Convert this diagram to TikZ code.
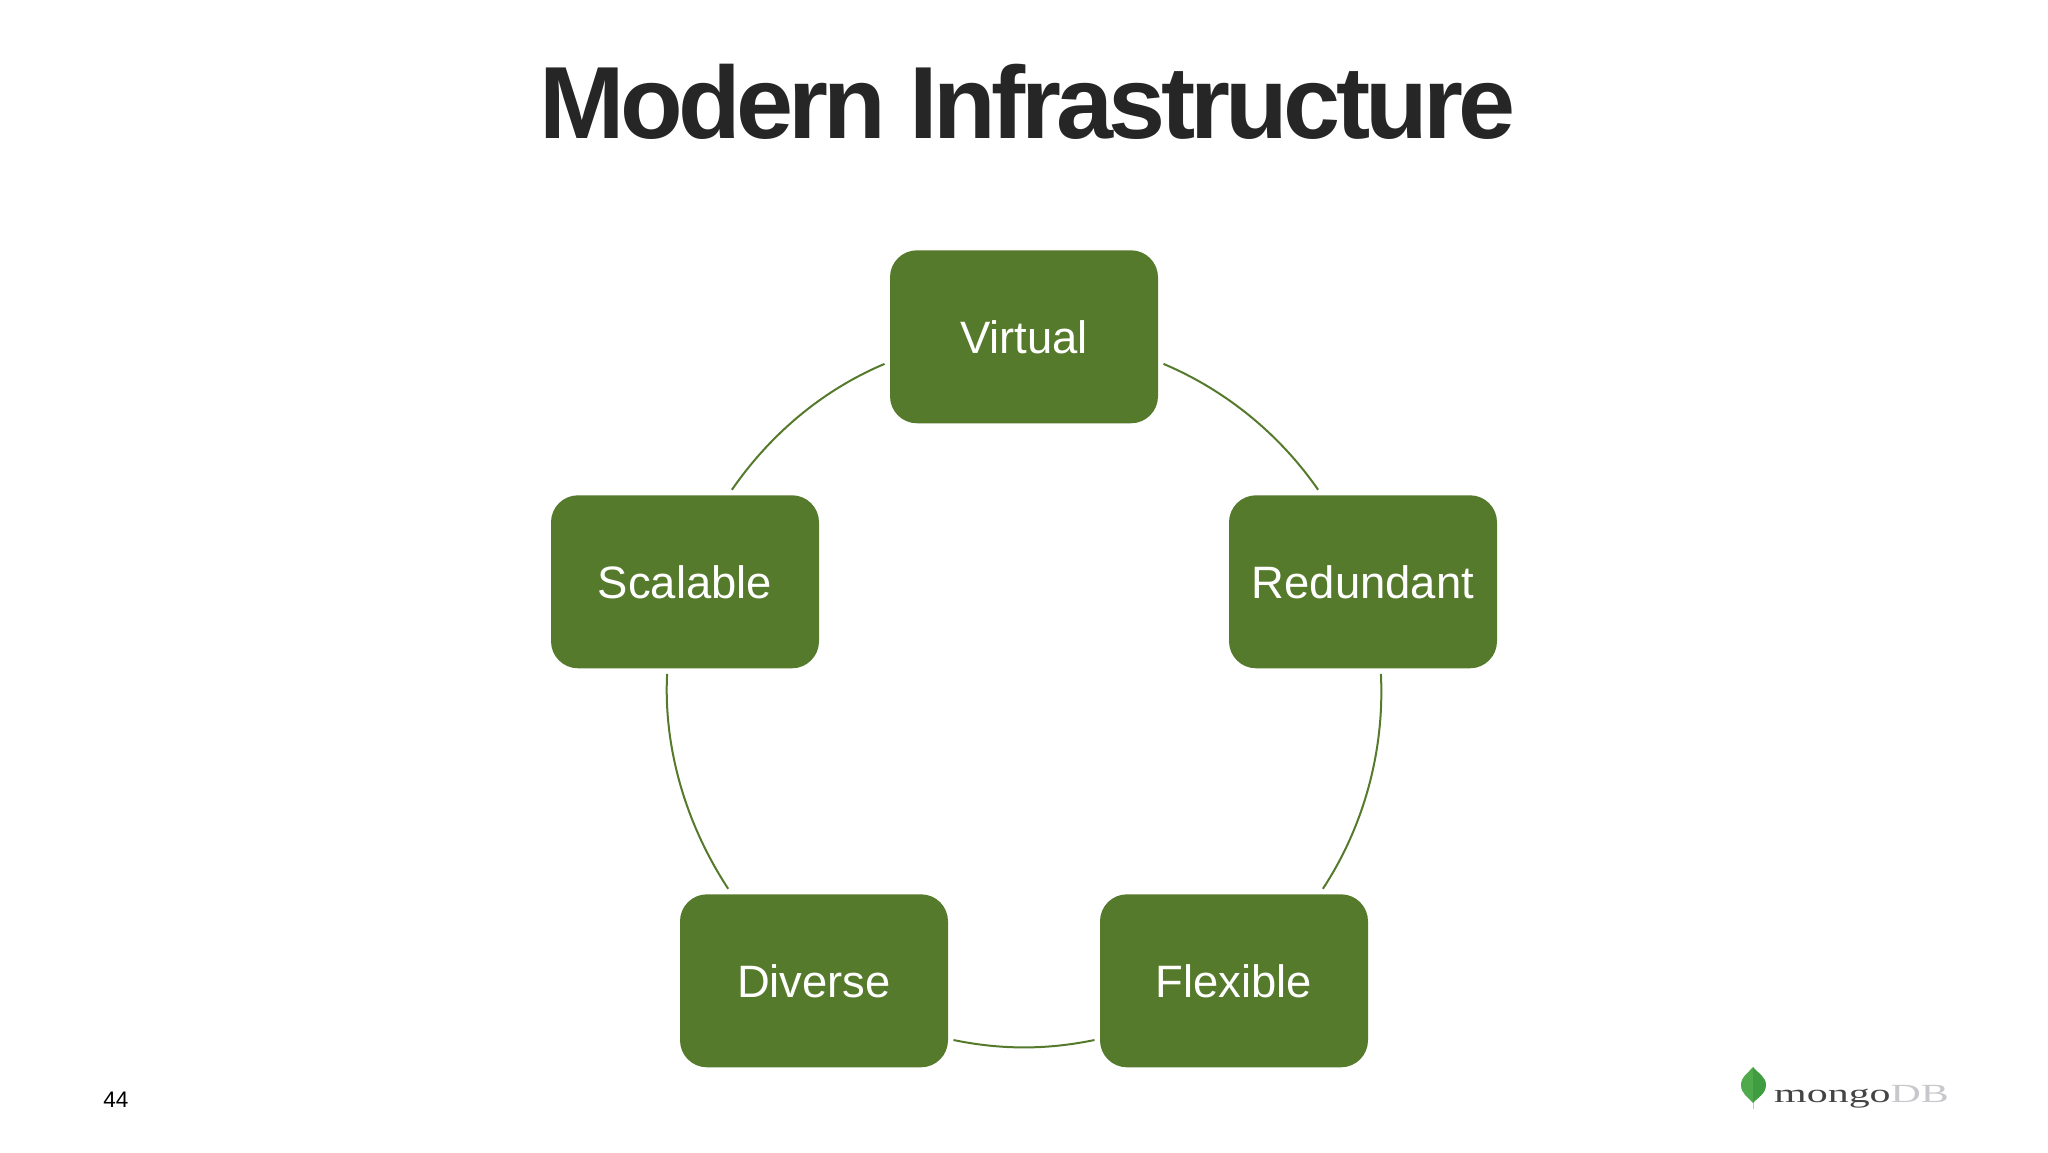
\documentclass[tikz,border=0pt]{standalone}
\usepackage{fontspec}
\setmainfont{Liberation Sans}
\newfontfamily\logofont[FakeStretch=1.6]{Liberation Serif}
\newfontfamily\titlefont[LetterSpace=-4.6]{Liberation Sans}
\usetikzlibrary{positioning}
\definecolor{boxgreen}{HTML}{557A2C}
\definecolor{titlegray}{HTML}{262626}
\definecolor{leafgreen}{HTML}{4FAA4C}
\definecolor{leafdark}{HTML}{409C40}
\definecolor{stemgray}{HTML}{C8C4B0}
\definecolor{mongotext}{HTML}{444444}
\definecolor{mongolight}{HTML}{C8C8CC}
\tikzstyle{block} = [rectangle, fill=boxgreen, rounded corners=27pt, text=white,
    font=\fontsize{45.4}{54}\selectfont, minimum width=268pt, minimum height=173pt,
    inner sep=0pt, outer sep=5.5pt]
\tikzstyle{line} = [draw, boxgreen, line width=2pt]

\begin{document}
\begin{tikzpicture}[x=1pt, y=1pt, on grid]
    \useasboundingbox (0,0) rectangle (2048,1152);
    % Place nodes
    \node [anchor=base, inner sep=0pt, text=titlegray, font=\fontsize{102.6}{110}\titlefont\bfseries] (title) at (1027.5,1013) {Modern Infrastructure};
    \node [block] (virtual) at (1024,815.2) {Virtual};
    \node [block, below right=245pt and 339pt of virtual] (redundant) {Redundant};
    \node [block, below left=245pt and 339pt of virtual] (scalable) {Scalable};
    \node [block, below left=399pt and 129pt of redundant] (flexible) {Flexible};
    \node [block, left=420pt of flexible] (diverse) {Diverse};
    \node [anchor=base, inner sep=0pt, font=\fontsize{22.5}{26}\selectfont] (page) at (116,45) {44};
    % logo
    \path [fill=stemgray] (1752.6,50) rectangle (1753.8,43);
    \path [fill=leafgreen] (1753,85) .. controls (1747,78) and (1741,75) .. (1741,67) .. controls (1741,58) and (1749,54) .. (1753,49) -- cycle;
    \path [fill=leafdark] (1753,85) .. controls (1759,78) and (1766,75) .. (1766,67) .. controls (1766,58) and (1757,54) .. (1753,49) -- cycle;
    \node [anchor=base west, inner sep=0pt, font=\fontsize{26.2}{30}\logofont] (logo) at (1774,50) {\textcolor{mongotext}{mongo}\textcolor{mongolight}{DB}};
    % arcs
    \path [line] (virtual.-11.2) to [out=-22.9, in=124.7, distance=67.6pt] (redundant.116.4);
    \path [line] (redundant.-79.6) to [out=-87.1, in=56.7, distance=75.7pt] (flexible.46.3);
    \path [line] (flexible.203.8) to [out=-168.3, in=-11.7, distance=48.7pt] (diverse.-23.8);
    \path [line] (diverse.133.7) to [out=123.3, in=-92.9, distance=75.7pt] (scalable.259.6);
    \path [line] (scalable.63.6) to [out=55.3, in=202.9, distance=67.6pt] (virtual.191.2);
\end{tikzpicture}
\end{document}
